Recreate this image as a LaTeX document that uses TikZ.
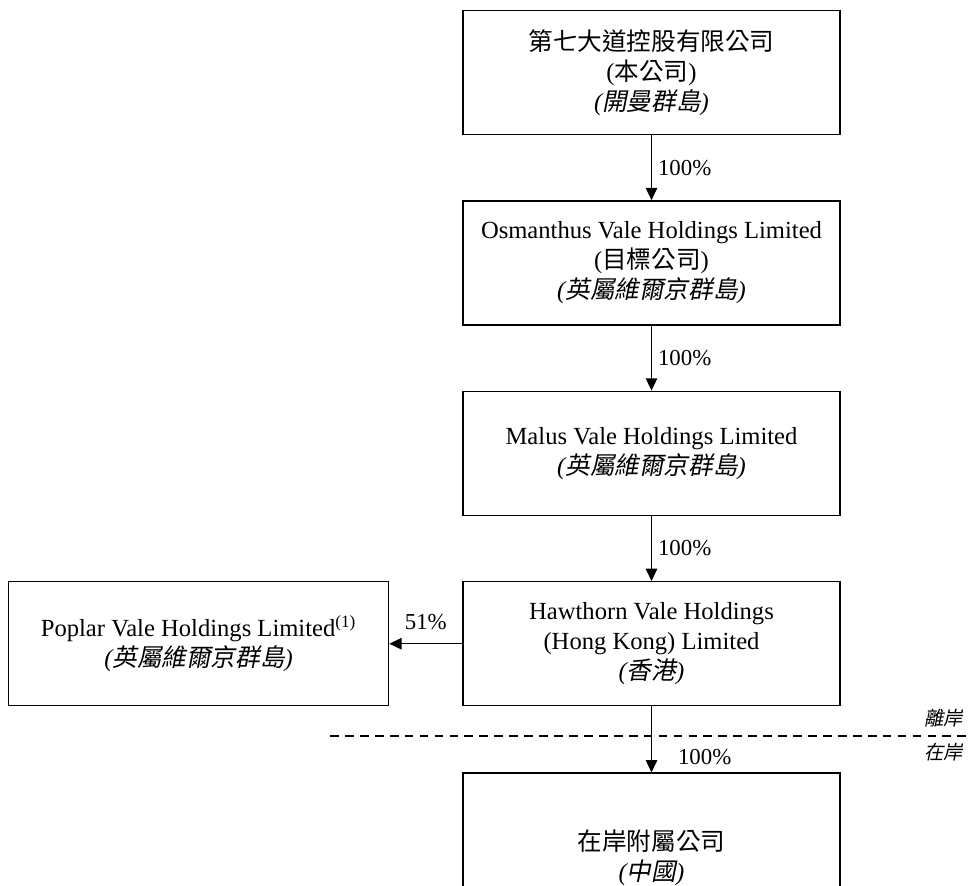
\documentclass[tikz,border=0pt]{standalone}
\usepackage{fontspec}
\setmainfont{Liberation Serif}
\newfontfamily\cjk{Noto Sans CJK TC}
\newfontfamily\cjkit[FakeSlant=0.2]{Noto Sans CJK TC}
\usepackage{tikz}
\usetikzlibrary{positioning, arrows.meta}
\newcommand{\zh}[1]{{\cjk #1}}
\newcommand{\zhit}[1]{{\cjkit #1}}
\newcommand{\place}[1]{{\itshape(}\zhit{#1}{\itshape)}}
\tikzstyle{entity} = [rectangle, draw=black, line width=0.8pt, minimum height=2.48cm, minimum width=7.54cm, text centered, align=center, font=\fontsize{14pt}{17pt}\selectfont]
\tikzstyle{arrow} = [line width=0.8pt, -{Triangle[length=7pt,width=6.5pt]}]
\tikzstyle{share} = [font=\fontsize{13pt}{15pt}\selectfont]
\tikzstyle{shore} = [font=\fontsize{11pt}{13pt}\selectfont, anchor=east]

\begin{document}
\begin{tikzpicture}[node distance=1.3cm]
        \useasboundingbox (0,0) rectangle (19.44,-17.7);
        \node (company) [entity] at (13.03,-1.45) {\zh{第七大道控股有限公司}\\(\zh{本公司})\\\place{開曼群島}};
        \node (osmanthus) [entity, below=of company] {Osmanthus Vale Holdings Limited\\(\zh{目標公司})\\\place{英屬維爾京群島}};
        \node (malus) [entity, below=of osmanthus] {Malus Vale Holdings Limited\\\place{英屬維爾京群島}};
        \node (hawthorn) [entity, below=of malus] {Hawthorn Vale Holdings\\(Hong Kong) Limited\\\place{香港}};
        \node (poplar) [entity, minimum width=7.6cm, left=1.46cm of hawthorn] {Poplar Vale Holdings Limited\textsuperscript{(1)}\\\place{英屬維爾京群島}};
        \node (onshore) [entity, minimum height=3.4cm, below=1.32cm of hawthorn] {\zh{在岸附屬公司}\\\place{中國}};

        % offshore / onshore divide
        \coordinate (divW) at (6.6,-14.72);
        \coordinate (divE) at (19.44,-14.72);
        \draw [line width=0.8pt, dash pattern=on 5pt off 3.5pt] (divW) -- (divE);
        \node (offshore) [shore] at (19.38,-14.36) {\zhit{離岸}};
        \node (inshore) [shore] at (19.38,-15.05) {\zhit{在岸}};

        \draw [arrow] (company) -- node[share, anchor=west] (pct1) {100\%} (osmanthus);
        \draw [arrow] (osmanthus) -- node[share, anchor=west] (pct2) {100\%} (malus);
        \draw [arrow] (malus) -- node[share, anchor=west] (pct3) {100\%} (hawthorn);
        \draw [arrow] (hawthorn) -- node[share, anchor=south, yshift=0.15cm] (pct4) {51\%} (poplar);
        \draw [arrow] (hawthorn) -- node[share, pos=0.77, anchor=west, xshift=0.4cm] (pct5) {100\%} (onshore);
    \end{tikzpicture}
\end{document}
